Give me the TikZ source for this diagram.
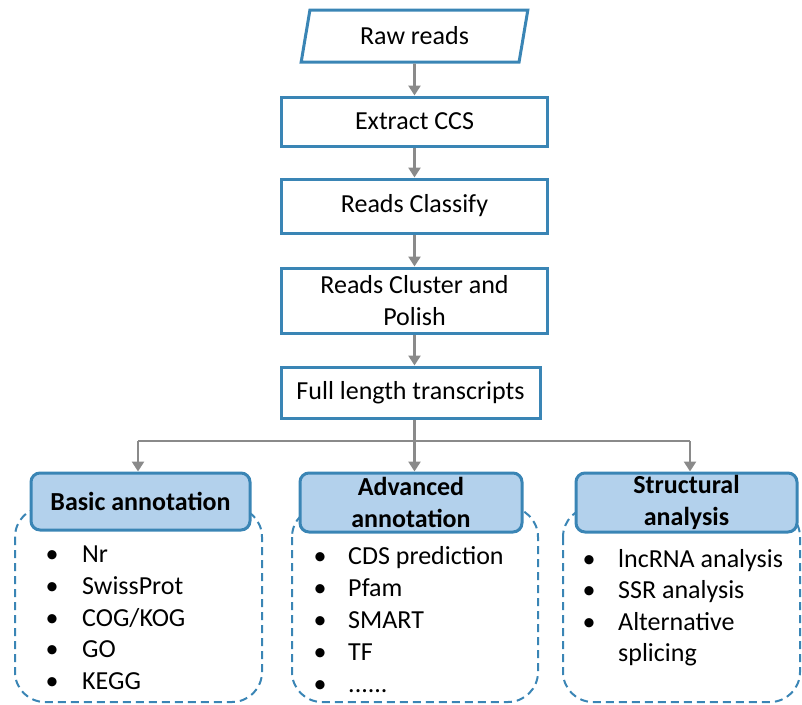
\documentclass[tikz,border=0pt]{standalone}
\usepackage{fontspec}
\setmainfont{Carlito}
\usetikzlibrary{arrows.meta,shapes.geometric}
\definecolor{bl}{HTML}{3A85B5}
\definecolor{fillbl}{HTML}{B3D1EC}
\definecolor{gr}{HTML}{8A8A8A}
\newcommand\mysixdots{......}
\begin{document}
\begin{tikzpicture}[x=1pt,y=-1pt, font=\fontsize{26}{32}\selectfont,
 flow/.style={draw=bl, line width=3pt, fill=white, minimum width=266pt, align=center, inner sep=0pt},
 head/.style={draw=bl, line width=3pt, fill=fillbl, rounded corners=9pt, align=center, font=\fontsize{26}{32}\selectfont\bfseries, inner sep=0pt},
 dbox/.style={draw=bl, line width=2pt, dash pattern=on 8pt off 5pt, rounded corners=30pt},
 gline/.style={draw=gr, line width=2.8pt},
 arr/.style={draw=gr, line width=2.8pt, -{Triangle[length=10pt,width=12pt]}},
 itm/.style={anchor=base west, inner sep=0pt},
 bul/.style={anchor=base, inner sep=0pt}]
\useasboundingbox (0,0) rectangle (802,704);

% flow
\node[trapezium, trapezium left angle=76, trapezium right angle=104, trapezium stretches=true,
      draw=bl, line width=3pt, minimum width=227pt, minimum height=52pt, inner sep=0pt] (raw) at (414.5,36) {Raw reads};
\node[flow, minimum height=49pt] (ccs) at (414.5,121.5) {Extract CCS};
\node[flow, minimum height=54pt] (cls) at (414.5,206) {Reads Classify};
\node[flow, minimum height=65pt] (clu) at (414.5,300.5) {Reads Cluster and\\Polish};
\node[flow, minimum height=51pt, minimum width=259pt] (full) at (410.5,392.5) {Full length transcripts};

\draw[arr] (raw.south) -- (ccs.north);
\draw[arr] (ccs.south) -- (cls.north);
\draw[arr] (cls.south) -- (clu.north);
\draw[arr] (clu.south) -- (full.north -| clu.south);

% dashed containers
\draw[dbox] (15,507) rectangle (262,702);
\draw[dbox] (292,507) rectangle (538,702);
\draw[dbox] (563,507) rectangle (800,702);

% headers
\node[head, minimum width=219pt, minimum height=57pt] (basic) at (140.5,501.5) {Basic annotation};
\node[head, minimum width=222pt, minimum height=59pt] (adv) at (411,502.5) {Advanced\\annotation};
\node[head, minimum width=221pt, minimum height=59pt] (str) at (686.5,502.5) {Structural\\analysis};

% branching
\coordinate (jl) at (138,441);
\coordinate (jm) at (414.5,441);
\coordinate (jr) at (690,441);
\draw[gline] (jl) -- (jr);
\draw[arr] (full.south -| jm) -- (adv.north -| jm);
\draw[arr] (jl) -- (basic.north -| jl);
\draw[arr] (jr) -- (str.north -| jr);

% lists
\foreach \t/\y [count=\i] in {Nr/562, SwissProt/594, COG\slash KOG/626, GO/657, KEGG/689}{
  \node[bul] (ba\i) at (52,\y) {\textbullet};
  \node[itm] (bt\i) at (82,\y) {\t};
}
\foreach \t/\y [count=\i] in {CDS prediction/564, Pfam/596, SMART/628, TF/660, \mysixdots/692}{
  \node[bul] (aa\i) at (320,\y) {\textbullet};
  \node[itm] (at\i) at (348,\y) {\t};
}
\foreach \t/\y [count=\i] in {lncRNA analysis/567, SSR analysis/598, Alternative/630}{
  \node[bul] (sa\i) at (589,\y) {\textbullet};
  \node[itm] (st\i) at (618,\y) {\t};
}
\node[itm] (st4) at (618,661) {splicing};
\end{tikzpicture}
\end{document}
